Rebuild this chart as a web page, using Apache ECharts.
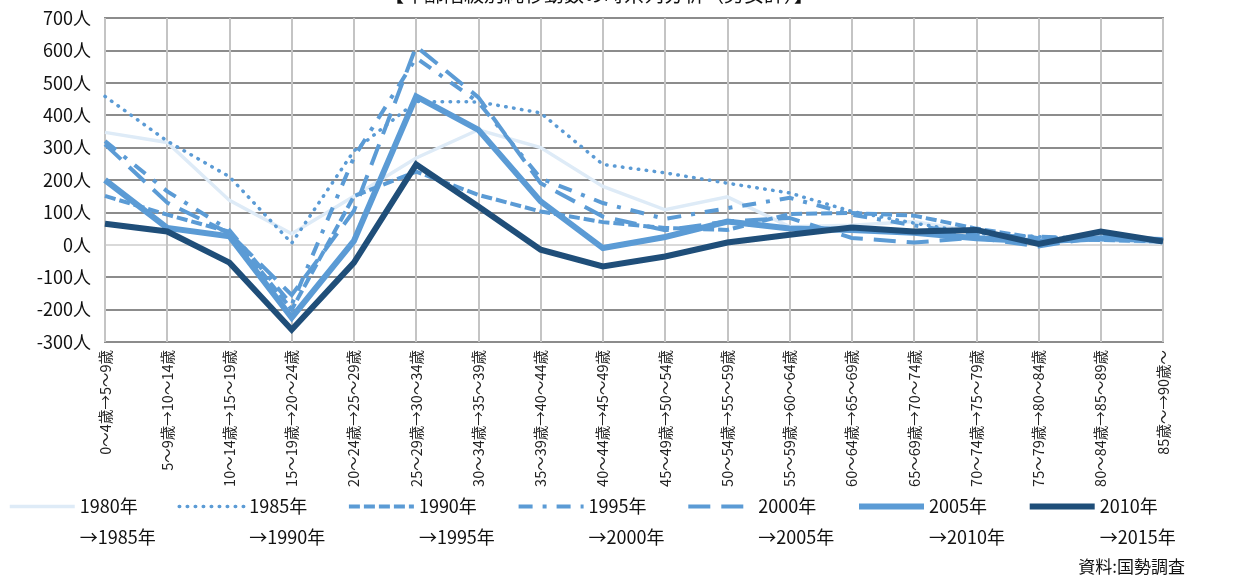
<!DOCTYPE html>
<html>
<head>
<meta charset="utf-8">
<script src="https://cdn.jsdelivr.net/npm/echarts@6/dist/echarts.min.js"></script>
<style>
html,body{margin:0;padding:0;background:#fff;}
#chart{width:1254px;height:580px;}
</style>
</head>
<body>
<div id="chart"></div>
<script>
const categories = [
  "0～4歳→5～9歳","5～9歳→10～14歳","10～14歳→15～19歳","15～19歳→20～24歳",
  "20～24歳→25～29歳","25～29歳→30～34歳","30～34歳→35～39歳","35～39歳→40～44歳",
  "40～44歳→45～49歳","45～49歳→50～54歳","50～54歳→55～59歳","55～59歳→60～64歳",
  "60～64歳→65～69歳","65～69歳→70～74歳","70～74歳→75～79歳","75～79歳→80～84歳",
  "80～84歳→85～89歳","85歳～→90歳～"
];
const seriesNames = ["1980年→1985年","1985年→1990年","1990年→1995年","1995年→2000年","2000年→2005年","2005年→2010年","2010年→2015年"];
const s1980 = [347,316,137,34,150,268,355,300,180,108,148,56,60,72,40,10,15,5];
const s1985 = [458,320,210,5,290,442,441,407,248,222,190,160,103,67,35,25,20,12];
const s1990 = [151,93,40,-200,150,226,154,103,70,52,46,95,98,90,50,20,15,10];
const s1995 = [320,165,45,-185,270,577,440,205,129,80,113,145,93,60,30,25,20,10];
const s2000 = [310,130,35,-155,105,612,455,190,87,45,72,83,21,7,22,-5,25,15];
const s2005 = [200,52,26,-225,12,458,355,134,-10,24,72,50,46,37,20,10,20,15];
const s2010 = [65,41,-55,-262,-55,248,118,-15,-67,-36,7,31,53,41,46,3,41,10];
const yTicks = {min:-300, max:700, interval:100};
const titleText = "【年齢階級別純移動数の時系列分析（男女計）】";
const sourceText = "資料:国勢調査";

const FONT = '"Liberation Sans Narrow","Noto Sans CJK JP",sans-serif';
const CJK = '"Noto Sans CJK JP",sans-serif';
const BLUE = '#5b9bd5';

const styles = [
  {color:'#deebf7', width:3.5, type:'solid'},
  {color:BLUE, width:3.5, type:[0.5,7.5], cap:'round'},
  {color:BLUE, width:4, type:[11,4]},
  {color:BLUE, width:4, type:[14,10,4,10]},
  {color:BLUE, width:4, type:[22,11]},
  {color:BLUE, width:6, type:'solid'},
  {color:'#1f4e79', width:6, type:'solid'}
];
const datas = [s1980,s1985,s1990,s1995,s2000,s2005,s2010];

const series = datas.map((d,i)=>({
  name: seriesNames[i],
  type:'line',
  data:d,
  symbol:'none',
  showSymbol:false,
  z: 2 + i,
  color: styles[i].color,
  lineStyle:{color:styles[i].color, width:styles[i].width, type:styles[i].type, cap:styles[i].cap||'butt', join:'miter'},
  animation:false
}));

const chart = echarts.init(document.getElementById('chart'), null, {renderer:'canvas'});
const gridColors = ['#8c8c8c','#8c8c8c','#8c8c8c','#d9d9d9','#8c8c8c','#8c8c8c','#8c8c8c','#8c8c8c','#8c8c8c','#8c8c8c','#8c8c8c'];
chart.setOption({
  animation:false,
  backgroundColor:'#fff',
  grid:{left:105, right:91, top:18, bottom:238, show:true, borderColor:'#8c8c8c', borderWidth:2, containLabel:false},
  xAxis:{
    type:'category', data:categories, boundaryGap:false,
    axisLine:{show:false, onZero:false},
    axisTick:{show:false},
    splitLine:{show:true, lineStyle:{color:'#c4c4c4', width:2}},
    axisLabel:{interval:0, rotate:90, margin:8, fontSize:14.5, fontFamily:CJK, color:'#222'}
  },
  yAxis:{
    type:'value', min:yTicks.min, max:yTicks.max, interval:yTicks.interval,
    axisLine:{show:false}, axisTick:{show:false},
    splitLine:{show:true, lineStyle:{color:gridColors, width:2}},
    axisLabel:{formatter:'{value}人', fontSize:18, fontFamily:FONT, color:'#111', margin:14}
  },
  legend:{
    left:3, top:455, orient:'horizontal',
    itemWidth:65, itemHeight:14, itemGap:13,
    itemStyle:{opacity:0, borderWidth:0},
    lineStyle:{width:'inherit', type:'inherit', cap:'inherit'},
    formatter: n => '{t| }\n{t|' + n.replace('→','}\n{t|→') + '}',
    textStyle:{fontSize:18, fontFamily:FONT, color:'#111', lineHeight:31,
      rich:{t:{fontSize:18, fontFamily:FONT, color:'#111', lineHeight:31, width:84.7}}},
    data: seriesNames
  },
  graphic:[
    {type:'text', left:384, top:-16, style:{text:titleText, fontSize:20, fontFamily:CJK, fill:'#111'}},
    {type:'text', right:69, top:558, style:{text:sourceText, fontSize:17, fontFamily:FONT, fill:'#111'}}
  ],
  series: series
});
</script>
</body>
</html>
